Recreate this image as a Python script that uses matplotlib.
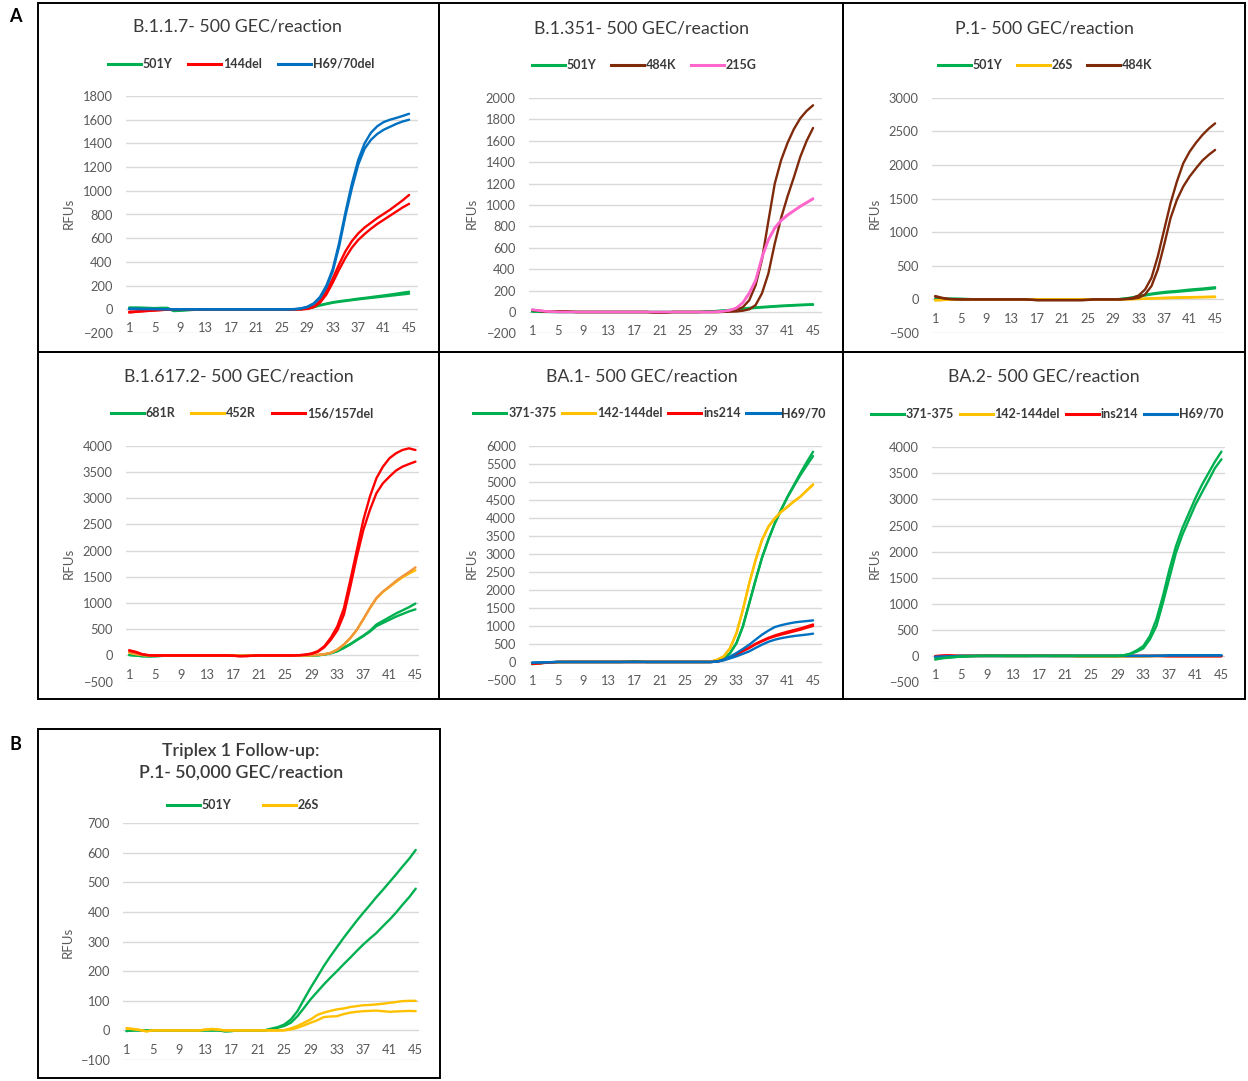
import matplotlib
matplotlib.use("Agg")
import matplotlib.pyplot as plt
from matplotlib.patches import Rectangle
import numpy as np

plt.rcParams['font.family'] = ['Lato', 'DejaVu Sans']

W, H = 1248, 1081
cycles = list(range(1, 46))
xtick_labels = [1, 5, 9, 13, 17, 21, 25, 29, 33, 37, 41, 45]

GREEN = '#00B050'
RED = '#FF0000'
BLUE = '#0070C0'
BROWN = '#7F2A0A'
PINK = '#FF66CC'
YELLOW = '#FFC000'
ORANGE = '#F0953A'

# ---------------- Panel 1: B.1.1.7 ----------------
b117_501Y_a = [15, 15, 14, 12, 10, 12, 12, -12, -10, -6, -4, -2, 0, 0, 0, 0, 0, 0, 0, 0, 0, 0, 0, 0, 0, 0, 0, 2, 8, 22, 36, 48, 60, 68, 75, 82, 90, 96, 103, 110, 117, 124, 132, 140, 148]
b117_501Y_b = [10, 10, 10, 8, 8, 10, 10, -15, -12, -8, -5, -3, -1, 0, 0, 0, 0, 0, 0, 0, 0, 0, 0, 0, 0, 0, 0, 1, 6, 18, 32, 44, 55, 63, 70, 77, 84, 90, 96, 102, 108, 114, 120, 126, 132]
b117_144del_a = [-28, -22, -18, -14, -10, -6, -3, -1, 0, 0, 0, 0, 0, 0, 0, 0, 0, 0, 0, 0, 0, 0, 0, 0, 0, 0, 0, 0, 5, 25, 70, 150, 260, 380, 490, 575, 640, 690, 730, 770, 805, 840, 880, 920, 965]
b117_144del_b = [-20, -18, -15, -12, -9, -6, -3, -1, 0, 0, 0, 0, 0, 0, 0, 0, 0, 0, 0, 0, 0, 0, 0, 0, 0, 0, 0, 0, 3, 18, 55, 125, 225, 335, 435, 520, 585, 635, 680, 720, 755, 790, 825, 860, 890]
b117_H69_a = [5, 4, 3, 3, 2, 2, 1, 0, 0, 0, 0, 0, 0, 0, 0, 0, 0, 0, 0, 0, 0, 0, 0, 0, 0, 0, 2, 8, 22, 50, 105, 200, 340, 560, 820, 1060, 1260, 1400, 1490, 1545, 1580, 1600, 1615, 1632, 1650]
b117_H69_b = [3, 3, 2, 2, 2, 1, 1, 0, 0, 0, 0, 0, 0, 0, 0, 0, 0, 0, 0, 0, 0, 0, 0, 0, 0, 0, 1, 6, 18, 45, 95, 185, 320, 530, 790, 1020, 1220, 1355, 1430, 1480, 1515, 1540, 1565, 1585, 1600]

# ---------------- Panel 2: B.1.351 ----------------
b1351_501Y_a = [5, 3, 2, 1, 0, 0, 0, 0, 0, 0, 0, 0, 0, 0, 0, 0, 0, 0, 0, 0, 0, 0, 0, 0, 0, 0, 0, 3, 6, 10, 14, 20, 26, 32, 38, 43, 47, 51, 55, 59, 62, 65, 68, 70, 72]
b1351_501Y_b = [4, 2, 1, 0, 0, 0, 0, 0, 0, 0, 0, 0, 0, 0, 0, 0, 0, 0, 0, 0, 0, 0, 0, 0, 0, 0, 0, 2, 4, 8, 12, 17, 22, 28, 33, 38, 42, 46, 50, 54, 57, 60, 63, 66, 68]
b1351_484K_a = [20, 12, 5, 2, 5, 6, 3, 0, 0, 0, 0, 0, 0, 0, 0, 0, 0, 0, 0, -5, -8, -5, 0, 0, 0, 0, 0, 0, 0, 0, 3, 8, 20, 45, 110, 250, 490, 850, 1200, 1420, 1580, 1710, 1810, 1880, 1932]
b1351_484K_b = [18, 10, 4, 2, 4, 5, 2, 0, 0, 0, 0, 0, 0, 0, 0, 0, 0, 0, 0, -4, -7, -4, 0, 0, 0, 0, 0, 0, 0, 0, 1, 3, 5, 12, 25, 65, 175, 360, 640, 880, 1080, 1260, 1450, 1600, 1720]
b1351_215G_a = [22, 15, 8, 3, 0, 0, 0, 0, 0, 0, 0, 0, 0, 0, 0, 0, 0, 0, 0, 0, 0, 0, 0, 0, 0, 0, 0, 0, 0, 2, 8, 18, 40, 90, 180, 300, 518, 680, 790, 860, 910, 950, 990, 1025, 1062]
b1351_215G_b = [20, 14, 7, 3, 0, 0, 0, 0, 0, 0, 0, 0, 0, 0, 0, 0, 0, 0, 0, 0, 0, 0, 0, 0, 0, 0, 0, 0, 0, 2, 7, 16, 36, 84, 170, 290, 505, 670, 780, 852, 902, 944, 984, 1020, 1055]

# ---------------- Panel 3: P.1 ----------------
p1_501Y_a = [5, 8, 10, 10, 8, 5, 3, 0, 0, -3, -5, -5, -5, -5, -5, -5, -5, -3, 0, 0, 0, 0, 0, 0, 0, 0, 0, 0, 0, 5, 15, 30, 50, 68, 85, 98, 110, 118, 125, 135, 145, 153, 160, 170, 180]
p1_501Y_b = [3, 6, 8, 8, 6, 4, 2, 0, 0, -3, -5, -5, -5, -5, -5, -5, -5, -3, 0, 0, 0, 0, 0, 0, 0, 0, 0, 0, 0, 4, 12, 25, 42, 58, 74, 86, 97, 105, 112, 121, 130, 138, 146, 155, 165]
p1_26S_a = [-15, -10, -5, -2, 0, 0, 0, 0, 0, 0, 0, 0, 0, 0, 0, 0, 0, 0, 0, 0, 0, 0, 0, 0, 0, 0, 0, 0, 0, 0, 2, 5, 8, 12, 16, 20, 24, 27, 29, 31, 33, 35, 37, 39, 42]
p1_26S_b = [-12, -8, -4, -2, 0, 0, 0, 0, 0, 0, 0, 0, 0, 0, 0, 0, 0, 0, 0, 0, 0, 0, 0, 0, 0, 0, 0, 0, 0, 0, 1, 3, 6, 9, 12, 15, 18, 21, 23, 25, 27, 29, 31, 33, 35]
p1_484K_a = [50, 25, 8, 2, 0, 0, 0, 0, 0, 0, 0, 0, 0, 0, 0, -5, -12, -12, -12, -12, -12, -12, -12, -12, -8, 0, 0, 0, 0, 0, 8, 20, 59, 148, 321, 642, 1037, 1432, 1754, 2025, 2198, 2330, 2445, 2540, 2618]
p1_484K_b = [40, 20, 6, 2, 0, 0, 0, 0, 0, 0, 0, 0, 0, 0, 0, -5, -10, -10, -10, -10, -10, -10, -10, -10, -6, 0, 0, 0, 0, 0, 4, 10, 25, 74, 198, 445, 815, 1210, 1482, 1680, 1828, 1950, 2065, 2150, 2223]

# ---------------- Panel 4: B.1.617.2 ----------------
b1617_681R_a = [10, 0, -15, -18, -15, -8, -3, 0, 0, 0, 0, 0, 0, 0, 0, 0, 0, 0, 0, 0, 0, 0, 0, 0, 0, 0, 0, 0, 0, 5, 19, 45, 85, 150, 220, 300, 380, 470, 590, 660, 730, 800, 860, 920, 990]
b1617_681R_b = [8, 0, -12, -15, -12, -6, -2, 0, 0, 0, 0, 0, 0, 0, 0, 0, 0, 0, 0, 0, 0, 0, 0, 0, 0, 0, 0, 0, 0, 4, 17, 42, 80, 143, 212, 292, 370, 455, 560, 620, 680, 740, 790, 840, 880]
b1617_452R_a = [60, 30, 10, 0, 0, 0, 0, 0, 0, 0, 0, 0, 0, 0, 0, 0, 0, 0, 0, 0, 0, 0, 0, 0, 0, 0, 0, 0, 5, 12, 25, 51, 114, 209, 336, 494, 697, 907, 1097, 1220, 1318, 1420, 1509, 1590, 1680]
b1617_452R_b = [50, 25, 8, 0, 0, 0, 0, 0, 0, 0, 0, 0, 0, 0, 0, 0, 0, 0, 0, 0, 0, 0, 0, 0, 0, 0, 0, 0, 4, 11, 24, 50, 112, 206, 332, 490, 690, 900, 1085, 1210, 1305, 1400, 1490, 1560, 1625]
b1617_156del_a = [100, 70, 25, 5, 0, 0, 0, 0, 0, 0, 0, 0, 0, 0, 0, 0, -5, -15, -12, -5, 0, 0, 0, 0, 0, 0, 5, 15, 38, 82, 177, 340, 560, 900, 1445, 2016, 2587, 3030, 3380, 3600, 3760, 3855, 3918, 3950, 3918]
b1617_156del_b = [90, 60, 20, 4, 0, 0, 0, 0, 0, 0, 0, 0, 0, 0, 0, 0, -5, -12, -10, -4, 0, 0, 0, 0, 0, 0, 4, 12, 30, 70, 158, 300, 480, 780, 1319, 1890, 2397, 2776, 3094, 3284, 3410, 3525, 3600, 3650, 3696]

# ---------------- Panel 5: BA.1 ----------------
ba1_371_a = [-60, -40, -20, -10, 0, 0, 0, 0, 0, 0, 0, 0, 0, 0, 0, 10, 25, 10, 0, 0, 0, 0, 0, 0, 0, 0, 0, 0, 0, 37, 92, 249, 526, 988, 1634, 2280, 2900, 3400, 3850, 4230, 4588, 4910, 5234, 5540, 5833]
ba1_371_b = [-55, -35, -18, -8, 0, 0, 0, 0, 0, 0, 0, 0, 0, 0, 0, 8, 20, 8, 0, 0, 0, 0, 0, 0, 0, 0, 0, 0, 0, 35, 90, 245, 520, 980, 1620, 2265, 2885, 3390, 3840, 4220, 4570, 4880, 5180, 5450, 5713]
ba1_142_a = [-40, -30, -20, -10, -5, 0, 0, 0, 0, 0, 0, 0, 0, 0, 0, 0, 0, 0, 0, 0, 0, 0, 0, 0, 0, 0, 0, 0, 10, 65, 157, 388, 803, 1449, 2188, 2834, 3388, 3757, 3988, 4170, 4311, 4460, 4588, 4760, 4929]
ba1_142_b = [-35, -28, -18, -9, -4, 0, 0, 0, 0, 0, 0, 0, 0, 0, 0, 0, 0, 0, 0, 0, 0, 0, 0, 0, 0, 0, 0, 0, 9, 62, 152, 380, 795, 1440, 2178, 2825, 3380, 3750, 3980, 4160, 4300, 4450, 4580, 4750, 4915]
ba1_ins214_a = [-50, -40, -25, -10, 0, 0, 0, 0, 0, 0, 0, 0, 0, 0, 0, 0, 0, 0, 0, 0, 0, 0, 0, 0, 0, 0, 0, 0, 0, 10, 60, 120, 203, 300, 388, 490, 572, 650, 711, 760, 803, 850, 895, 950, 1000]
ba1_ins214_b = [-45, -35, -22, -8, 0, 0, 0, 0, 0, 0, 0, 0, 0, 0, 0, 0, 0, 0, 0, 0, 0, 0, 0, 0, 0, 0, 0, 0, 0, 10, 62, 124, 210, 310, 400, 505, 590, 670, 735, 790, 840, 885, 930, 985, 1040]
ba1_H69_a = [-20, -15, -10, -5, 0, 0, 0, 0, 0, 0, 0, 0, 0, 0, 0, 0, 0, 0, 0, 0, 0, 0, 0, 0, 0, 0, 0, 0, 0, 15, 65, 150, 249, 360, 480, 620, 757, 870, 969, 1020, 1061, 1095, 1117, 1135, 1154]
ba1_H69_b = [-18, -13, -8, -4, 0, 0, 0, 0, 0, 0, 0, 0, 0, 0, 0, 0, 0, 0, 0, 0, 0, 0, 0, 0, 0, 0, 0, 0, 0, 12, 46, 100, 157, 225, 295, 390, 480, 560, 618, 660, 692, 720, 740, 760, 785]

# ---------------- Panel 6: BA.2 ----------------
ba2_371_a = [-70, -45, -35, -22, -15, -8, -3, 0, 0, 0, 0, 0, 0, 0, 0, 0, 0, 0, 0, 0, 0, 0, 0, 0, 0, 0, 0, 0, 0, 13, 45, 108, 191, 382, 701, 1147, 1656, 2102, 2452, 2739, 3026, 3280, 3503, 3726, 3917]
ba2_371_b = [-60, -40, -30, -20, -12, -6, -2, 0, 0, 0, 0, 0, 0, 0, 0, 0, 0, 0, 0, 0, 0, 0, 0, 0, 0, 0, 0, 0, 0, 10, 38, 83, 146, 318, 573, 1019, 1497, 1975, 2325, 2612, 2898, 3134, 3363, 3600, 3771]
ba2_142_a = [-20, -10, 0, 0, 0, 0, 0, 5, 10, 10, 5, 0, 0, 0, 0, 5, 8, 5, 0, 0, 0, 0, -8, -8, -8, -8, -8, -8, -8, -8, -8, -8, -8, -4, 0, 0, 0, 0, 0, 0, 0, 0, 0, 0, 0]
ba2_142_b = [-15, -8, 0, 0, 0, 0, 0, 3, 8, 8, 4, 0, 0, 0, 0, 4, 6, 4, 0, 0, 0, 0, -6, -6, -6, -6, -6, -6, -6, -6, -6, -6, -6, -3, 0, 0, 0, 0, 0, 0, 0, 0, 0, 0, 0]
ba2_ins214_a = [-5, 5, 10, 3, 0, 0, 0, 0, 0, 0, 0, 0, 0, 0, 0, 0, 0, 0, 0, 0, 0, 0, 0, 0, 0, 0, 0, 0, 0, 0, 0, 0, 0, 0, 0, -2, -5, -5, -5, -5, -5, -5, -5, -5, -5]
ba2_ins214_b = [-3, 4, 8, 2, 0, 0, 0, 0, 0, 0, 0, 0, 0, 0, 0, 0, 0, 0, 0, 0, 0, 0, 0, 0, 0, 0, 0, 0, 0, 0, 0, 0, 0, 0, 0, -2, -4, -4, -4, -4, -4, -4, -4, -4, -4]
ba2_H69_a = [-20, -15, -10, -5, 0, 0, 0, 0, 0, 0, 0, 0, 0, 0, 0, 0, 0, 0, 0, 0, 0, 0, 0, 0, 0, 0, 0, 0, 0, 0, 0, 0, 0, 0, 2, 5, 12, 12, 12, 12, 12, 12, 12, 12, 12]
ba2_H69_b = [-18, -13, -8, -4, 0, 0, 0, 0, 0, 0, 0, 0, 0, 0, 0, 0, 0, 0, 0, 0, 0, 0, 0, 0, 0, 0, 0, 0, 0, 0, 0, 0, 0, 0, 2, 4, 10, 10, 10, 10, 10, 10, 10, 10, 10]

# ---------------- Panel B: Triplex 1 follow-up ----------------
fu_501Y_a = [-2, 0, 0, 0, 0, 0, 0, 0, 0, 0, 0, 0, 0, 0, 0, -3, -2, 0, 0, 0, 0, 0, 6, 11, 20, 37, 65, 105, 144, 180, 217, 250, 281, 312, 341, 370, 397, 423, 450, 475, 501, 527, 554, 580, 610]
fu_501Y_b = [-2, 0, 0, 0, 0, 0, 0, 0, 0, 0, 0, 0, 0, 0, 0, -3, -2, 0, 0, 0, 0, 0, 4, 9, 15, 26, 48, 76, 105, 130, 155, 178, 200, 223, 245, 268, 290, 310, 329, 352, 374, 398, 425, 450, 479]
fu_26S_a = [8, 5, 2, -3, 0, 0, 0, 0, 0, 0, 0, 0, 3, 5, 3, 0, 0, 0, 0, 0, 0, 0, 0, 0, 1, 7, 15, 26, 37, 52, 60, 66, 71, 74, 79, 82, 85, 86, 88, 90, 93, 96, 99, 100, 100]
fu_26S_b = [6, 4, 1, -3, 0, 0, 0, 0, 0, 0, 0, 0, 2, 4, 2, 0, 0, 0, 0, 0, 0, 0, 0, 0, 0, 3, 9, 17, 26, 34, 45, 47, 48, 55, 60, 63, 65, 66, 67, 65, 63, 64, 65, 66, 65]

panels = [
    dict(title='B.1.1.7- 500 GEC/reaction', rect=(126, 418, 96, 333), ylim=(-200, 1800), step=200, xmax=46.4,
         series=[('501Y', GREEN, [(b117_501Y_a, GREEN), (b117_501Y_b, GREEN)]),
                 ('144del', RED, [(b117_144del_a, RED), (b117_144del_b, RED)]),
                 ('H69/70del', BLUE, [(b117_H69_a, BLUE), (b117_H69_b, BLUE)])],
         tc=(237.5, 27), lc=(241, 64), cs=1.25, rfu=(69, 213), tw='normal'),
    dict(title='B.1.351- 500 GEC/reaction', rect=(529, 822, 98, 333.4), ylim=(-200, 2000), step=200, xmax=46.4,
         series=[('501Y', GREEN, [(b1351_501Y_a, GREEN), (b1351_501Y_b, GREEN)]),
                 ('484K', BROWN, [(b1351_484K_a, BROWN), (b1351_484K_b, BROWN)]),
                 ('215G', PINK, [(b1351_215G_a, PINK), (b1351_215G_b, PINK)])],
         tc=(642, 28), lc=(644, 65), cs=1.15, rfu=(472, 213), tw='normal'),
    dict(title='P.1- 500 GEC/reaction', rect=(932, 1224, 97.7, 333), ylim=(-500, 3000), step=500, xmax=46.4,
         series=[('501Y', GREEN, [(p1_501Y_a, GREEN), (p1_501Y_b, GREEN)]),
                 ('26S', YELLOW, [(p1_26S_a, YELLOW), (p1_26S_b, YELLOW)]),
                 ('484K', BROWN, [(p1_484K_a, BROWN), (p1_484K_b, BROWN)])],
         tc=(1044, 28), lc=(1045, 65), cs=1.1, rfu=(875, 213), tw='normal'),
    dict(title='B.1.617.2- 500 GEC/reaction', rect=(126, 418.7, 445.7, 681.7), ylim=(-500, 4000), step=500, xmax=45.5,
         series=[('681R', GREEN, [(b1617_681R_a, GREEN), (b1617_681R_b, GREEN)]),
                 ('452R', YELLOW, [(b1617_452R_b, YELLOW), (b1617_452R_a, ORANGE)]),
                 ('156/157del', RED, [(b1617_156del_a, RED), (b1617_156del_b, RED)])],
         tc=(238.5, 377), lc=(242, 413), cs=1.25, rfu=(69, 563), tw='normal'),
    dict(title='BA.1- 500 GEC/reaction', rect=(529, 822, 445.7, 680), ylim=(-500, 6000), step=500, xmax=46.4,
         series=[('371-375', GREEN, [(ba1_371_a, GREEN), (ba1_371_b, GREEN)]),
                 ('142-144del', YELLOW, [(ba1_142_a, YELLOW), (ba1_142_b, YELLOW)]),
                 ('ins214', RED, [(ba1_ins214_a, RED), (ba1_ins214_b, RED)]),
                 ('H69/70', BLUE, [(ba1_H69_a, BLUE), (ba1_H69_b, BLUE)])],
         tc=(641.5, 377), lc=(649.5, 413), cs=0.45, rfu=(472, 563), tw='normal'),
    dict(title='BA.2- 500 GEC/reaction', rect=(932, 1224.7, 447.3, 682), ylim=(-500, 4000), step=500, xmax=45.5,
         series=[('371-375', GREEN, [(ba2_142_a, YELLOW), (ba2_142_b, YELLOW), (ba2_ins214_a, RED), (ba2_ins214_b, RED),
                                     (ba2_H69_a, BLUE), (ba2_H69_b, BLUE), (ba2_371_a, GREEN), (ba2_371_b, GREEN)]),
                 ('142-144del', YELLOW, []),
                 ('ins214', RED, []),
                 ('H69/70', BLUE, [])],
         tc=(1044, 377), lc=(1047, 414), cs=0.45, rfu=(875, 563), tw='normal'),
    dict(title='Triplex 1 Follow-up:\nP.1- 50,000 GEC/reaction', rect=(123.3, 419, 823.3, 1060), ylim=(-100, 700), step=100, xmax=45.5,
         series=[('501Y', GREEN, [(fu_501Y_a, GREEN), (fu_501Y_b, GREEN)]),
                 ('26S', YELLOW, [(fu_26S_a, YELLOW), (fu_26S_b, YELLOW)])],
         tc=(240.7, 762), lc=(243, 805), cs=2.5, rfu=(68, 942), tw='semibold'),
]

fig = plt.figure(figsize=(W / 100, H / 100), dpi=100)

TXT = '#3A3A3A'
TICK = '#595959'

for p in panels:
    x0, x1, yt, yb = p['rect']
    ax = fig.add_axes([x0 / W, 1 - yb / H, (x1 - x0) / W, (yb - yt) / H])
    ymin, ymax = p['ylim']
    ax.set_ylim(ymin, ymax)
    ax.set_xlim(0.5, p['xmax'])
    ax.set_yticks(np.arange(ymin, ymax + 1, p['step']))
    ax.grid(axis='y', color='#D9D9D9', lw=1.0)
    ax.set_axisbelow(True)
    for s in ax.spines.values():
        s.set_visible(False)
    ax.spines['bottom'].set_position(('data', 0))
    ax.set_xticks(xtick_labels)
    ax.set_xticklabels([str(v) for v in xtick_labels])
    ax.tick_params(axis='x', length=0, pad=9.5, labelsize=9.3, labelcolor=TICK)
    ax.tick_params(axis='y', length=0, pad=9.5, labelsize=9.3, labelcolor=TICK)
    handles, labels = [], []
    for name, col, curves in p['series']:
        for vals, c in curves:
            ax.plot(cycles, vals, color=c, lw=1.7, solid_capstyle='round', clip_on=False)
        h, = ax.plot([], [], color=col, lw=2.2)
        handles.append(h)
        labels.append(name)
    fig.text(p['rfu'][0] / W, 1 - p['rfu'][1] / H, 'RFUs', rotation=90, ha='center', va='center',
             fontsize=9.5, color=TICK)
    fig.text(p['tc'][0] / W, 1 - p['tc'][1] / H, p['title'], ha='center', va='center',
             fontsize=12.8, color=TXT, linespacing=1.4, fontweight=p['tw'])
    fig.legend(handles, labels, loc='center', bbox_to_anchor=(p['lc'][0] / W, 1 - p['lc'][1] / H),
               ncol=len(labels), frameon=False, handlelength=2.65, handletextpad=0.15,
               columnspacing=p['cs'], prop={'weight': 'bold', 'size': 9}, labelcolor=TXT,
               borderpad=0, borderaxespad=0)

# panel boxes
def box(xa, xb, ya, yb):
    fig.add_artist(Rectangle((xa / W, 1 - yb / H), (xb - xa) / W, (yb - ya) / H,
                             transform=fig.transFigure, fill=False, ec='black', lw=1.4))

for (xa, xb) in [(38, 439), (439, 843), (843, 1244.5)]:
    for (ya, yb) in [(3, 352), (352, 699)]:
        box(xa, xb, ya, yb)
box(37.5, 440, 729, 1078)

fig.text(15 / W, 1 - 17 / H, 'A', ha='center', va='center', fontsize=13, fontweight='bold', color='black')
fig.text(15 / W, 1 - 745 / H, 'B', ha='center', va='center', fontsize=13, fontweight='bold', color='black')

fig.savefig('out.png', dpi=100, facecolor='white')
